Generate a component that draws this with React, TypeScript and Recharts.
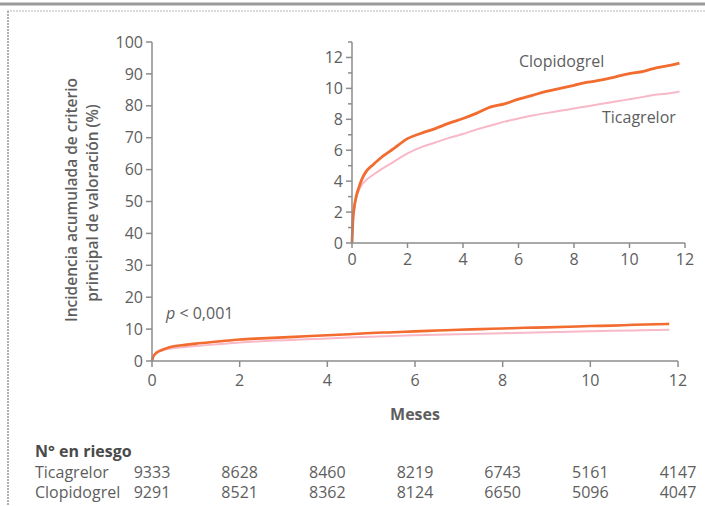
import { LineChart, Line, XAxis, YAxis } from "recharts";

const FONT = "'Open Sans', 'DejaVu Sans', sans-serif";
const TEXT = "#5e5e5e";
const AXIS = "#8c8c8c";
const CLOPI = "#f26b2f";
const TICA = "#f8b8c8";

// months since randomisation and cumulative incidence (%)
const months = [0, 0.03, 0.08, 0.15, 0.25, 0.35, 0.5, 0.75, 1, 1.5, 2, 2.5, 3, 3.5, 4, 4.5, 5, 5.5, 6, 6.5, 7, 7.5, 8, 8.5, 9, 9.5, 10, 10.5, 11, 11.5, 11.8];
const clopidogrel = [0, 1.4, 2.3, 3.0, 3.6, 4.1, 4.6, 5.05, 5.45, 6.1, 6.75, 7.1, 7.4, 7.75, 8.05, 8.4, 8.8, 9.0, 9.3, 9.55, 9.8, 10.0, 10.2, 10.4, 10.55, 10.75, 10.95, 11.1, 11.35, 11.5, 11.63];
const ticagrelor = [0, 1.3, 2.2, 2.9, 3.4, 3.75, 4.05, 4.4, 4.7, 5.25, 5.8, 6.2, 6.5, 6.8, 7.05, 7.35, 7.6, 7.85, 8.05, 8.25, 8.4, 8.55, 8.7, 8.85, 9.0, 9.15, 9.3, 9.45, 9.6, 9.7, 9.8];

const monthTicks = [0, 2, 4, 6, 8, 10, 12];
const mainYTicks = [0, 10, 20, 30, 40, 50, 60, 70, 80, 90, 100];
const insetYTicks = [0, 1, 2, 3, 4, 5, 6, 7, 8, 9, 10, 11, 12, 13];

// numbers at risk
const riskMonths = [0, 2, 4, 6, 8, 10, 12];
const riskTicagrelor = [9333, 8628, 8460, 8219, 6743, 5161, 4147];
const riskClopidogrel = [9291, 8521, 8362, 8124, 6650, 5096, 4047];

const data = months.map((m, i) => ({
  month: m,
  clopidogrel: clopidogrel[i],
  ticagrelor: ticagrelor[i],
}));

const PLOT_LEFT = 152;
const PLOT_RIGHT = 678;
const colX = (m: number) => PLOT_LEFT + (m / 12) * (PLOT_RIGHT - PLOT_LEFT);

const tickStyle = { fill: TEXT, fontSize: 16, fontFamily: FONT };

const InsetYTick = (props: any) => {
  const { x, y, payload } = props;
  const major = payload.value % 2 === 0;
  return (
    <g>
      <line x1={x} x2={x - (major ? 6 : 4)} y1={y} y2={y} stroke={AXIS} strokeWidth={1.5} />
      {major && (
        <text x={x - 9} y={y} dy="0.36em" textAnchor="end" {...tickStyle}>
          {payload.value}
        </text>
      )}
    </g>
  );
};

export default function App() {
  return (
    <div
      style={{
        position: "absolute",
        left: 0,
        top: 0,
        width: 705,
        height: 506,
        background: "#fff",
        fontFamily: FONT,
        overflow: "hidden",
      }}
    >
      {/* main chart, 0-100 % */}
      <div style={{ position: "absolute", left: 0, top: 0 }}>
        <LineChart width={705} height={506} data={data} margin={{ top: 42, right: 27, left: 92, bottom: 115 }}>
          <XAxis
            dataKey="month"
            type="number"
            domain={[0, 12]}
            ticks={monthTicks}
            interval={0}
            height={30}
            stroke={AXIS}
            strokeWidth={1.5}
            tickSize={6}
            tickMargin={8}
            tick={tickStyle}
          />
          <YAxis
            type="number"
            domain={[0, 100]}
            ticks={mainYTicks}
            interval={0}
            width={60}
            stroke={AXIS}
            strokeWidth={1.5}
            tickSize={6}
            tickMargin={3}
            tick={tickStyle}
          />
          <Line type="monotone" dataKey="ticagrelor" stroke={TICA} strokeWidth={2} dot={false} isAnimationActive={false} />
          <Line type="monotone" dataKey="clopidogrel" stroke={CLOPI} strokeWidth={2.6} dot={false} isAnimationActive={false} />
        </LineChart>
      </div>

      {/* inset, 0-13 % */}
      <div style={{ position: "absolute", left: 0, top: 0 }}>
        <LineChart width={705} height={506} data={data} margin={{ top: 42, right: 20, left: 312, bottom: 233 }}>
          <XAxis
            dataKey="month"
            type="number"
            domain={[0, 12]}
            ticks={monthTicks}
            interval={0}
            height={30}
            stroke={AXIS}
            strokeWidth={1.5}
            tickSize={5}
            tickMargin={6}
            tick={tickStyle}
          />
          <YAxis
            type="number"
            domain={[0, 13]}
            ticks={insetYTicks}
            interval={0}
            width={40}
            stroke={AXIS}
            strokeWidth={1.5}
            tickSize={0}
            tickMargin={0}
            tickLine={false}
            tick={<InsetYTick />}
          />
          <Line type="monotone" dataKey="ticagrelor" stroke={TICA} strokeWidth={2} dot={false} isAnimationActive={false} />
          <Line type="monotone" dataKey="clopidogrel" stroke={CLOPI} strokeWidth={2.8} dot={false} isAnimationActive={false} />
        </LineChart>
      </div>

      {/* frame, titles, annotations, risk table */}
      <svg width={705} height={506} style={{ position: "absolute", left: 0, top: 0, pointerEvents: "none" }}>
        <line x1={0} x2={705} y1={4} y2={4} stroke="#9a9a9a" strokeWidth={3} />
        <line x1={7} x2={705} y1={11} y2={11} stroke="#b5b5b5" strokeWidth={1.2} strokeDasharray="2 1" />
        <line x1={8} x2={8} y1={11} y2={506} stroke="#b0b0b0" strokeWidth={2} strokeDasharray="2 1" />

        <g fill={TEXT} fontFamily={FONT} fontSize={15.5} fontWeight={600} textAnchor="middle">
          <text transform="translate(77 200) rotate(-90)">Incidencia acumulada de criterio</text>
          <text transform="translate(98 203) rotate(-90)">principal de valoración (%)</text>
        </g>

        <text x={166} y={319} fill={TEXT} fontFamily={FONT} fontSize={16}>
          <tspan fontStyle="italic">p</tspan> &lt; 0,001
        </text>

        <text x={519} y={67} fill={TEXT} fontFamily={FONT} fontSize={16}>Clopidogrel</text>
        <text x={602} y={123} fill={TEXT} fontFamily={FONT} fontSize={16}>Ticagrelor</text>

        <text x={(PLOT_LEFT + PLOT_RIGHT) / 2} y={420} fill={TEXT} fontFamily={FONT} fontSize={16} fontWeight={700} textAnchor="middle">
          Meses
        </text>

        <text x={35} y={457} fill="#4a4a4a" fontFamily={FONT} fontSize={16} fontWeight={700}>
          N° en riesgo
        </text>
        <g fill={TEXT} fontFamily={FONT} fontSize={16}>
          <text x={35} y={478}>Ticagrelor</text>
          <text x={35} y={498}>Clopidogrel</text>
          {riskMonths.map((m, i) => (
            <text key={"t" + m} x={colX(m)} y={478} textAnchor="middle">{riskTicagrelor[i]}</text>
          ))}
          {riskMonths.map((m, i) => (
            <text key={"c" + m} x={colX(m)} y={498} textAnchor="middle">{riskClopidogrel[i]}</text>
          ))}
        </g>
      </svg>
    </div>
  );
}
